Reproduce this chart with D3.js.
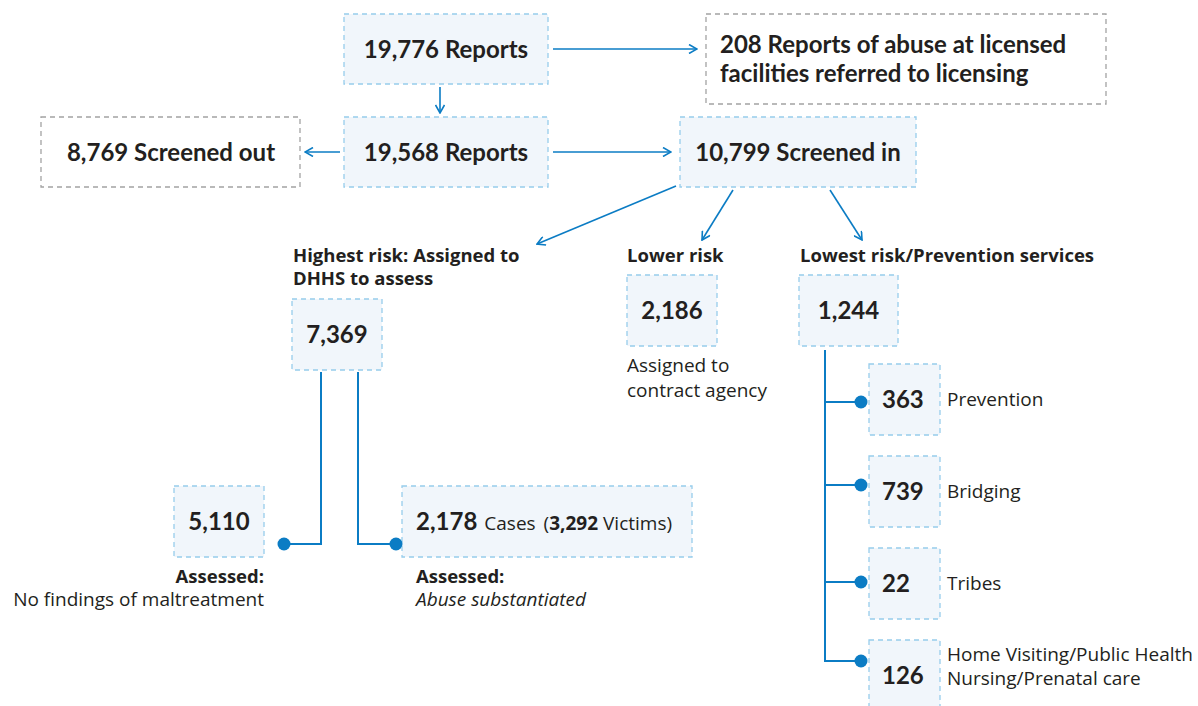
<!DOCTYPE html>
<meta charset="utf-8">
<script src="https://d3js.org/d3.v7.js"></script>
<style>
  body { margin: 0; background: #fff; }
  text { font-family: Lato, "Open Sans", sans-serif; fill: #231f20; }
  text.small { font-family: "Open Sans", Lato, sans-serif; }
</style>
<div id="my_dataviz"></div>
<script>
    // values
    const intakeNames = ["Reports", "Reports", "Screened out", "Screened in"];
    const intakeCounts = [19776, 19568, 8769, 10799];
    const licensingCount = 208;
    const riskNames = ["Highest risk: Assigned to|DHHS to assess", "Lower risk", "Lowest risk/Prevention services"];
    const riskCounts = [7369, 2186, 1244];
    const assessCounts = [5110, 2178];
    const victimCount = 3292;
    const serviceNames = ["Prevention", "Bridging", "Tribes", "Home Visiting/Public Health|Nursing/Prenatal care"];
    const serviceCounts = [363, 739, 22, 126];

    const fmt = d3.format(",");
    const blue = "#0b7cc4";

    const width = 1198, height = 706;
    const svg = d3.select("#my_dataviz")
      .append("svg")
        .attr("width", width)
        .attr("height", height);

    // arrow head
    svg.append("defs").append("marker")
        .attr("id", "arrow")
        .attr("viewBox", "0 0 10 10")
        .attr("refX", 9).attr("refY", 5)
        .attr("markerWidth", 10).attr("markerHeight", 10)
        .attr("markerUnits", "userSpaceOnUse")
        .attr("orient", "auto")
      .append("path")
        .attr("d", "M1,0.5 L9,5 L1,9.5")
        .attr("fill", "none")
        .attr("stroke", blue)
        .attr("stroke-width", 1.6);

    function box(x, y, w, h, gray) {
      svg.append("rect")
        .attr("x", x).attr("y", y).attr("width", w).attr("height", h)
        .attr("fill", gray ? "#fff" : "#f1f6fb")
        .attr("stroke", gray ? "#a3a3a3" : "#97cdec")
        .attr("stroke-width", 1.3)
        .attr("stroke-dasharray", "5,4");
    }
    function label(x, y, str, opts = {}) {
      return svg.append("text")
        .attr("class", (opts.size || 19) < 20 ? "small" : null)
        .attr("x", x).attr("y", y)
        .attr("text-anchor", opts.anchor || "start")
        .style("font-size", (opts.size || 19) + "px")
        .style("font-weight", opts.bold ? "bold" : "normal")
        .style("font-style", opts.italic ? "italic" : "normal")
        .text(str);
    }
    function arrow(x1, y1, x2, y2) {
      svg.append("line")
        .attr("x1", x1).attr("y1", y1).attr("x2", x2).attr("y2", y2)
        .attr("stroke", blue).attr("stroke-width", 1.6)
        .attr("marker-end", "url(#arrow)");
    }
    function elbow(points, dot) {
      svg.append("path")
        .attr("d", d3.line()(points))
        .attr("fill", "none")
        .attr("stroke", blue).attr("stroke-width", 2);
      if (dot) svg.append("circle")
        .attr("cx", dot[0]).attr("cy", dot[1]).attr("r", 6.5)
        .attr("fill", blue);
    }

    // top row
    box(344, 14, 204, 70);
    label(446, 58, fmt(intakeCounts[0]) + " " + intakeNames[0], {anchor: "middle", bold: true, size: 24});
    box(706, 14, 400, 90, true);
    label(720, 53, licensingCount + " Reports of abuse at licensed", {bold: true, size: 24});
    label(720, 82, "facilities referred to licensing", {bold: true, size: 24});

    // second row
    box(344, 117, 204, 70);
    label(446, 161, fmt(intakeCounts[1]) + " " + intakeNames[1], {anchor: "middle", bold: true, size: 24});
    box(41, 117, 259, 70, true);
    label(171, 161, fmt(intakeCounts[2]) + " " + intakeNames[2], {anchor: "middle", bold: true, size: 24});
    box(680, 117, 236, 70);
    label(798, 161, fmt(intakeCounts[3]) + " " + intakeNames[3], {anchor: "middle", bold: true, size: 24});

    arrow(553, 49, 697, 49);
    arrow(440, 87, 440, 113);
    arrow(340, 152, 305, 152);
    arrow(553, 152, 671, 152);
    arrow(676, 186, 537, 244);
    arrow(733, 190, 702, 240);
    arrow(830, 190, 862, 240);

    // risk levels
    const riskBoxes = [{x: 292, y: 299, w: 90}, {x: 627, y: 275, w: 90}, {x: 799, y: 275, w: 99}];
    const riskHead = [293, 627, 800];
    riskNames.forEach((n, i) => {
      n.split("|").forEach((line, j) => label(riskHead[i], 262 + j * 23, line, {bold: true, size: 18.5}));
      const b = riskBoxes[i];
      box(b.x, b.y, b.w, 71);
      label(b.x + b.w / 2, b.y + 44, fmt(riskCounts[i]), {anchor: "middle", bold: true, size: 24});
    });
    label(627, 372, "Assigned to");
    label(627, 397, "contract agency");

    // assessments
    box(174, 486, 90, 71);
    label(219, 530, fmt(assessCounts[0]), {anchor: "middle", bold: true, size: 24});
    label(264, 583, "Assessed:", {anchor: "end", bold: true, size: 18.5});
    label(264, 606, "No findings of maltreatment", {anchor: "end"});

    box(402, 486, 290, 71);
    const sub = label(416, 530, "", {size: 24});
    sub.append("tspan").style("font-weight", "bold").text(fmt(assessCounts[1]));
    sub.append("tspan").style("font-family", "'Open Sans'").style("font-size", "19px").attr("dx", 7).text("Cases");
    sub.append("tspan").style("font-family", "'Open Sans'").style("font-size", "19px").attr("dx", 8).text("(");
    sub.append("tspan").style("font-family", "'Open Sans'").style("font-weight", "bold").style("font-size", "19px").text(fmt(victimCount));
    sub.append("tspan").style("font-family", "'Open Sans'").style("font-size", "19px").text(" Victims)");
    label(416, 583, "Assessed:", {bold: true, size: 18.5});
    label(416, 606, "Abuse substantiated", {italic: true});

    elbow([[321, 372], [321, 544], [284, 544]], [284, 544]);
    elbow([[358, 372], [358, 544], [396, 544]], [396, 544]);

    // prevention services
    const yService = d3.scalePoint().domain(serviceNames).range([364, 640]);
    const dotY = [402, 485, 582, 661];
    svg.append("line")
      .attr("x1", 825).attr("x2", 825)
      .attr("y1", 350).attr("y2", dotY[3] + 1)
      .attr("stroke", blue).attr("stroke-width", 2);
    serviceNames.forEach((n, i) => {
      const y = yService(n);
      box(869, y, 71, 71);
      label(882, y + 44, fmt(serviceCounts[i]), {bold: true, size: 24});
      elbow([[825, dotY[i]], [861, dotY[i]]], [861, dotY[i]]);
      const lines = n.split("|");
      lines.forEach((line, j) => {
        const ly = lines.length > 1 ? dotY[i] + j * 24 : y + 42;
        label(947, ly, line);
      });
    });
</script>
